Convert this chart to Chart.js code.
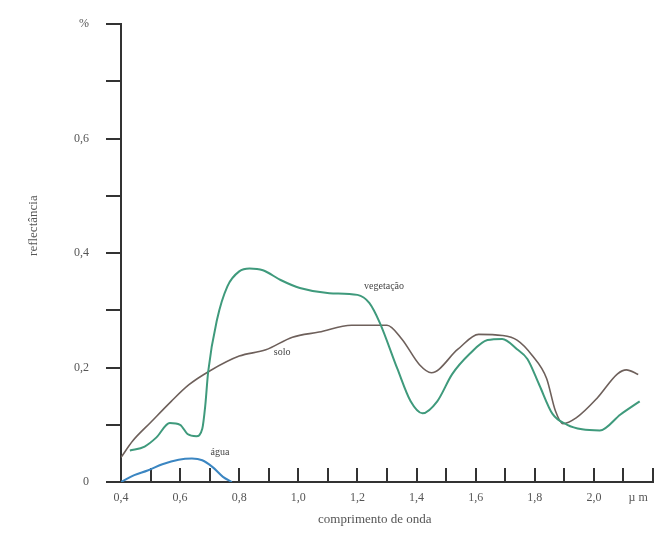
<!DOCTYPE html>
<html><head><meta charset="utf-8">
<script src="https://cdn.jsdelivr.net/npm/chart.js@4/dist/chart.umd.min.js"></script>
<style>html,body{margin:0;padding:0;background:#fff;}#wrap{width:657px;height:538px;}</style>
</head><body><div id="wrap"><canvas id="c" width="657" height="538"></canvas></div>
<script>
// wavelengths (µm) and reflectance (fraction)
const vegWl = [0.43,0.48,0.52,0.565,0.60,0.625,0.655,0.675,0.685,0.695,0.725,0.76,0.80,0.835,0.88,0.94,1.005,1.105,1.20,1.24,1.275,1.335,1.38,1.42,1.47,1.52,1.58,1.64,1.69,1.74,1.775,1.815,1.86,1.91,1.96,2.02,2.09,2.155];
const vegR  = [0.055,0.062,0.078,0.103,0.100,0.084,0.080,0.093,0.133,0.193,0.284,0.342,0.368,0.373,0.370,0.353,0.339,0.330,0.327,0.313,0.279,0.198,0.141,0.120,0.141,0.188,0.224,0.248,0.250,0.232,0.215,0.170,0.119,0.100,0.092,0.090,0.118,0.141];
const soloWl = [0.40,0.44,0.50,0.57,0.63,0.70,0.80,0.89,0.98,1.07,1.18,1.30,1.35,1.41,1.45,1.54,1.61,1.69,1.74,1.79,1.84,1.87,1.895,1.94,2.01,2.08,2.11,2.15];
const soloR  = [0.043,0.072,0.104,0.141,0.170,0.194,0.220,0.231,0.253,0.262,0.274,0.274,0.250,0.205,0.191,0.232,0.258,0.256,0.248,0.222,0.181,0.124,0.102,0.112,0.146,0.189,0.196,0.188];
const aguaWl = [0.40,0.445,0.49,0.54,0.595,0.64,0.675,0.71,0.745,0.775];
const aguaR  = [0.0,0.012,0.020,0.031,0.039,0.041,0.038,0.026,0.009,0.0];

const xTickValues = [0.4,0.5,0.6,0.7,0.8,0.9,1.0,1.1,1.2,1.3,1.4,1.5,1.6,1.7,1.8,1.9,2.0,2.1,2.15,2.2];
const xTickLabels = ['0,4','','0,6','','0,8','','1,0','','1,2','','1,4','','1,6','','1,8','','2,0','','\u00b5 m',''];
const yTickLabels = ['0','','0,2','','0,4','','0,6','','%'];

const curveNames = ['vegetação','solo','água'];
const curveLabelWl = [1.29,0.945,0.735];
const curveLabelR  = [0.342,0.227,0.052];

const xTitle = 'comprimento de onda';
const yTitle = 'reflectância';

const toPts = (xs, ys) => xs.map((x, i) => ({x: x, y: ys[i]}));

Chart.defaults.font.family = "'Liberation Serif', 'DejaVu Serif', serif";
Chart.defaults.color = '#555';

const textPlugin = {
  id: 'texts',
  afterDraw(chart) {
    const ctx = chart.ctx, xs = chart.scales.x, ys = chart.scales.y;
    ctx.save();
    ctx.fillStyle = '#444';
    ctx.font = "10px 'Liberation Serif', serif";
    ctx.textAlign = 'center';
    ctx.textBaseline = 'middle';
    curveNames.forEach((n, i) => {
      ctx.fillText(n, xs.getPixelForValue(curveLabelWl[i]), ys.getPixelForValue(curveLabelR[i]));
    });
    ctx.fillStyle = '#555';
    ctx.font = "13px 'Liberation Serif', serif";
    ctx.fillText(xTitle, xs.left + (xs.right - xs.left) * 0.477, xs.bottom - 18);
    ctx.translate(34, ys.top + (ys.bottom - ys.top) * 0.44);
    ctx.rotate(-Math.PI / 2);
    ctx.fillText(yTitle, 0, 0);
    ctx.restore();
  }
};

new Chart(document.getElementById('c'), {
  type: 'line',
  data: {
    datasets: [
      {label: 'vegetação', data: toPts(vegWl, vegR), borderColor: '#3f9a7c', borderWidth: 2, pointRadius: 0, cubicInterpolationMode: 'monotone', fill: false},
      {label: 'solo', data: toPts(soloWl, soloR), borderColor: '#6e605b', borderWidth: 1.6, pointRadius: 0, cubicInterpolationMode: 'monotone', fill: false},
      {label: 'água', data: toPts(aguaWl, aguaR), borderColor: '#3b86c2', borderWidth: 2, pointRadius: 0, cubicInterpolationMode: 'monotone', fill: false}
    ]
  },
  options: {
    responsive: false,
    animation: false,
    devicePixelRatio: 1,
    layout: {padding: {top: 17, right: 4, bottom: 0, left: 0}},
    plugins: {legend: {display: false}, tooltip: {enabled: false}},
    scales: {
      x: {
        type: 'linear', min: 0.4, max: 2.2,
        afterBuildTicks(scale) { scale.ticks = xTickValues.map(v => ({value: v})); },
        afterFit(scale) { scale.height = 56; scale.paddingRight = 0; scale.paddingLeft = 0; },
        border: {color: '#333', width: 2},
        grid: {drawOnChartArea: false, drawTicks: true, tickLength: -14, lineWidth: 2, tickWidth: 2,
               tickColor: (c) => (c.tick && xTickLabels[c.index] === '\u00b5 m') ? 'rgba(0,0,0,0)' : '#333'},
        ticks: {autoSkip: false, maxRotation: 0, padding: 23, font: {size: 12}, color: '#555',
                callback: (v, i) => xTickLabels[i]}
      },
      y: {
        type: 'linear', min: 0, max: 0.8,
        afterBuildTicks(scale) { scale.ticks = yTickLabels.map((l, i) => ({value: i / 10})); },
        afterFit(scale) { scale.width = 121; },
        border: {color: '#333', width: 2},
        grid: {drawOnChartArea: false, drawTicks: true, tickLength: 15, lineWidth: 2, tickWidth: 2, tickColor: '#333'},
        ticks: {autoSkip: false, padding: 17, font: {size: 12}, color: '#555',
                callback: (v, i) => yTickLabels[i]}
      }
    }
  },
  plugins: [textPlugin]
});
</script></body></html>
